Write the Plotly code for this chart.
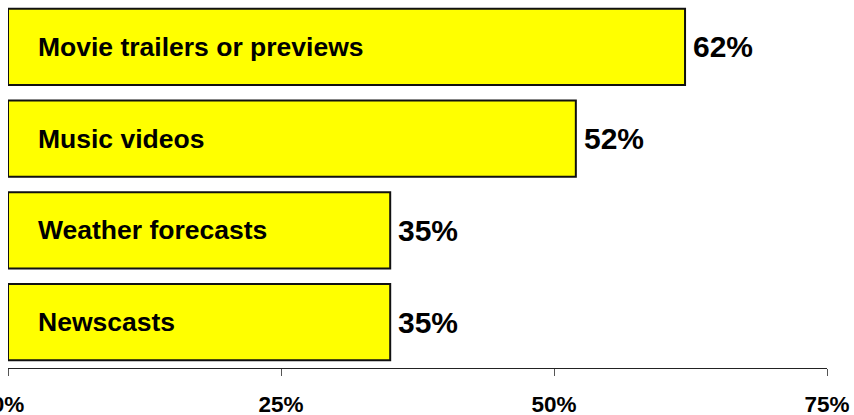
import plotly.graph_objects as go

categories = ["Movie trailers or previews", "Music videos", "Weather forecasts", "Newscasts"]
values = [62, 52, 35, 35]
tick_vals = [0, 25, 50, 75]
tick_text = ["0%", "25%", "50%", "75%"]

FONT = "Arial, Liberation Sans, sans-serif"

fig = go.Figure()
fig.add_trace(go.Bar(
    x=values, y=categories, orientation="h",
    marker=dict(color="#FFFF00", line=dict(color="#111111", width=2)),
    width=0.83, hoverinfo="skip",
))

for c, v in zip(categories, values):
    fig.add_annotation(x=0, y=c, text=c, xanchor="left", yanchor="middle",
                       xshift=28, showarrow=False,
                       font=dict(family=FONT, size=26.5, color="black", weight="bold"))
    fig.add_annotation(x=v, y=c, text=f"{v}%", xanchor="left", yanchor="middle",
                       xshift=6, showarrow=False,
                       font=dict(family=FONT, size=30, color="black", weight="bold"))

fig.update_layout(
    width=854, height=415,
    margin=dict(l=8, r=27, t=1, b=47),
    paper_bgcolor="white", plot_bgcolor="white",
    showlegend=False,
    xaxis=dict(range=[0, 75], tickvals=tick_vals, ticktext=tick_text,
               showgrid=False, zeroline=False, showline=True, linecolor="#222222",
               linewidth=1, ticks="outside", ticklen=7, tickcolor="#555555",
               ticklabelstandoff=9, ticklabeloverflow="allow",
               tickfont=dict(family=FONT, size=22.5, color="black", weight="bold"),
               automargin=False, fixedrange=True),
    yaxis=dict(categoryorder="array", categoryarray=categories, autorange="reversed",
               showticklabels=False, showgrid=False, zeroline=False, showline=False,
               automargin=False, range=[3.5, -0.5]),
)

fig.write_html("out.html", config={"displayModeBar": False, "staticPlot": True},
               post_script="document.body.style.margin='0';document.body.style.overflow='hidden';")
